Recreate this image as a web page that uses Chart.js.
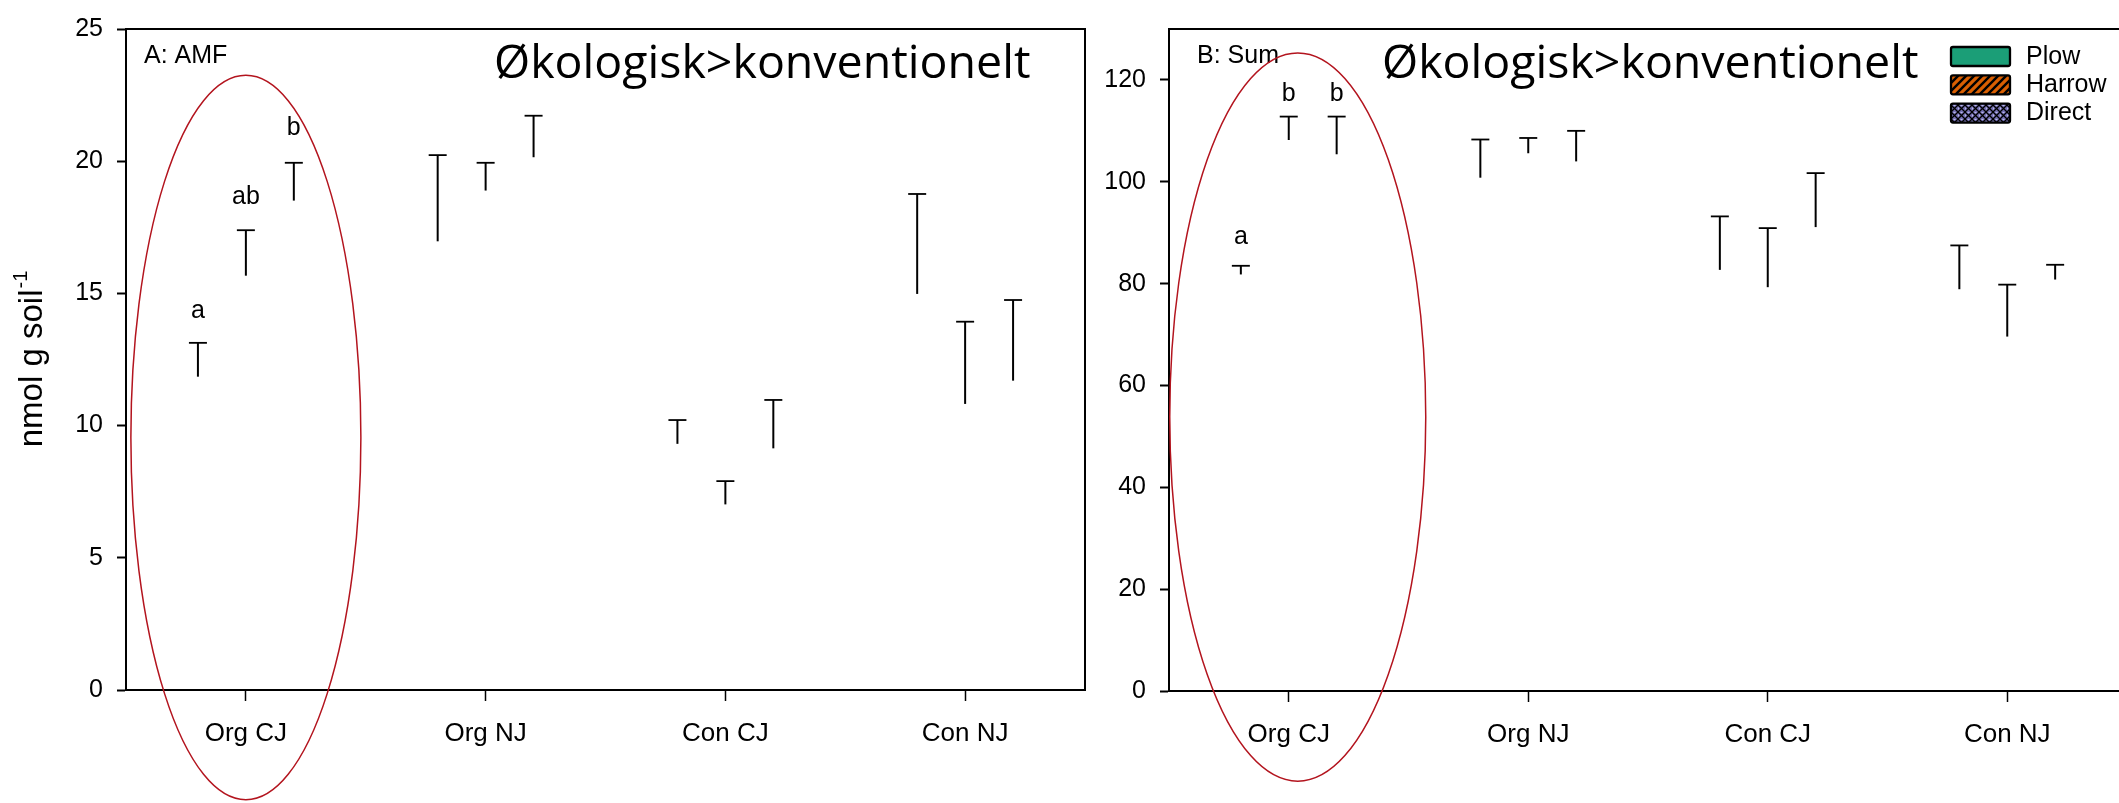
<!DOCTYPE html>
<html lang="da">
<head>
  <meta charset="UTF-8" />
  <title>AMF og sum - jordbehandling</title>
  <script src="https://cdn.jsdelivr.net/npm/chart.js"></script>
  <style>
    html, body {
      margin: 0;
      padding: 0;
      background: #ffffff;
      overflow: hidden;
      width: 2119px;
      height: 803px;
    }

    .panel {
      position: absolute;
      top: 0;
    }

    #panelA { left: 0; }
    #panelB { left: 1090px; }
  </style>
</head>
<body>
  <div class="panel" id="panelA"><canvas id="chartA" width="1090" height="803"></canvas></div>
  <div class="panel" id="panelB"><canvas id="chartB" width="1050" height="803"></canvas></div>

  <script>
    const groups = ['Org CJ', 'Org NJ', 'Con CJ', 'Con NJ'];
    const tillage = ['Plow', 'Harrow', 'Direct'];
    const tillageColors = ['#1b9e77', '#d95f02', '#7570b3'];

    // A: AMF, means (bar tops) and upper SE
    const amfPlow = [11.85, 16.97, 9.31, 14.98];
    const amfHarrow = [15.67, 18.89, 7.02, 10.82];
    const amfDirect = [18.51, 20.15, 9.14, 11.70];
    const amfPlowSe = [1.28, 3.26, 0.90, 3.78];
    const amfHarrowSe = [1.72, 1.05, 0.88, 3.11];
    const amfDirectSe = [1.43, 1.57, 1.83, 3.05];
    const amfLetters = ['a', 'ab', 'b'];   // Org CJ only
    const amfTicks = [0, 5, 10, 15, 20, 25];

    // B: Sum
    const sumPlow = [81.8, 100.8, 82.7, 78.9];
    const sumHarrow = [108.2, 105.6, 79.3, 69.6];
    const sumDirect = [105.4, 104.0, 91.1, 80.8];
    const sumPlowSe = [1.7, 7.5, 10.5, 8.6];
    const sumHarrowSe = [4.6, 3.0, 11.6, 10.2];
    const sumDirectSe = [7.4, 6.0, 10.6, 2.9];
    const sumLetters = ['a', 'b', 'b'];
    const sumTicks = [0, 20, 40, 60, 80, 100, 120];

    const headline = 'Økologisk>konventionelt';
    const sansFont = "'Liberation Sans', Arial, sans-serif";

    Chart.defaults.font.family = sansFont;
    Chart.defaults.color = '#000000';

    const makePattern = (kind, color) => {
      const size = kind === 'hatch' ? 8 : 7;
      const c = document.createElement('canvas');
      c.width = size;
      c.height = size;
      const p = c.getContext('2d');
      p.fillStyle = color;
      p.fillRect(0, 0, size, size);
      p.strokeStyle = '#000000';
      if (kind === 'hatch') {
        p.lineWidth = 2.4;
        p.beginPath();
        p.moveTo(-2, size + 2); p.lineTo(size + 2, -2);
        p.moveTo(-2, 2); p.lineTo(2, -2);
        p.moveTo(size - 2, size + 2); p.lineTo(size + 2, size - 2);
        p.stroke();
      } else {
        p.lineWidth = 1.3;
        p.beginPath();
        p.moveTo(0, 0); p.lineTo(size, size);
        p.moveTo(0, size); p.lineTo(size, 0);
        p.stroke();
        p.fillStyle = '#b9b6e6';
        p.fillRect(size / 2 - 1, 0, 2, 1);
        p.fillRect(0, size / 2 - 1, 1, 2);
      }
      return p.createPattern(c, 'repeat');
    };

    const decor = {
      id: 'decor',
      afterDatasetsDraw(chart, args, opts) {
        const ctx = chart.ctx;
        const y = chart.scales.y;
        ctx.save();
        ctx.strokeStyle = '#000000';
        ctx.fillStyle = '#000000';
        chart.data.datasets.forEach((ds, i) => {
          chart.getDatasetMeta(i).data.forEach((bar, j) => {
            const top = y.getPixelForValue(ds.data[j] + ds.se[j]);
            ctx.lineWidth = 2;
            ctx.beginPath();
            ctx.moveTo(bar.x, bar.y);
            ctx.lineTo(bar.x, top);
            ctx.stroke();
            ctx.lineWidth = 1.8;
            ctx.beginPath();
            ctx.moveTo(bar.x - 9, top);
            ctx.lineTo(bar.x + 9, top);
            ctx.stroke();
            if (j === 0 && ds.letter) {
              ctx.font = `25px ${sansFont}`;
              ctx.textAlign = 'center';
              ctx.textBaseline = 'alphabetic';
              ctx.fillText(ds.letter, bar.x, top - opts.letterGap[i]);
            }
          });
        });
        ctx.restore();
      },
      afterDraw(chart, args, opts) {
        const ctx = chart.ctx;
        const area = chart.chartArea;
        ctx.save();

        // top and right frame
        ctx.strokeStyle = '#000000';
        ctx.lineWidth = 2;
        ctx.beginPath();
        ctx.moveTo(area.left, area.top);
        ctx.lineTo(area.right, area.top);
        ctx.lineTo(area.right, area.bottom);
        ctx.stroke();

        ctx.fillStyle = '#000000';
        ctx.textAlign = 'left';
        ctx.textBaseline = 'alphabetic';
        ctx.font = `25px ${sansFont}`;
        ctx.fillText(opts.panelLabel, opts.panelLabelX, 63);

        ctx.font = "46.5px 'Open Sans', 'Noto Sans', sans-serif";
        ctx.fillText(headline, opts.headlineX, 78);

        if (opts.yTitle) {
          const cy = (area.top + area.bottom) / 2;
          ctx.translate(42, cy);
          ctx.rotate(-Math.PI / 2);
          ctx.font = `33px ${sansFont}`;
          const w1 = ctx.measureText(opts.yTitle).width;
          ctx.font = `20px ${sansFont}`;
          const w2 = ctx.measureText('-1').width;
          const x0 = -(w1 + w2) / 2;
          ctx.font = `33px ${sansFont}`;
          ctx.fillText(opts.yTitle, x0, 0);
          ctx.font = `20px ${sansFont}`;
          ctx.fillText('-1', x0 + w1 + 1, -15);
          ctx.setTransform(1, 0, 0, 1, 0, 0);
        }

        if (opts.legend) {
          const fills = [tillageColors[0], makePattern('hatch', tillageColors[1]), makePattern('cross', tillageColors[2])];
          tillage.forEach((name, k) => {
            const bx = 861;
            const by = 47 + k * 28.3;
            ctx.fillStyle = fills[k];
            ctx.beginPath();
            ctx.roundRect(bx, by, 59, 19, 2);
            ctx.fill();
            ctx.lineWidth = 2.3;
            ctx.strokeStyle = '#000000';
            ctx.stroke();
            ctx.fillStyle = '#000000';
            ctx.font = `25px ${sansFont}`;
            ctx.textBaseline = 'middle';
            ctx.fillText(name, 936, by + 10);
          });
        }

        // red ring around Org CJ
        const x = chart.scales.x;
        const yScale = chart.scales.y;
        const e = opts.ring;
        const cx = x.getPixelForValue(0) + e.dx;
        const cyRing = yScale.getPixelForValue(e.cy);
        const ry = yScale.getPixelForValue(0) - yScale.getPixelForValue(e.ry);
        ctx.strokeStyle = '#b3141e';
        ctx.lineWidth = 1.5;
        ctx.beginPath();
        ctx.ellipse(cx, cyRing, e.rx, ry, 0, 0, Math.PI * 2);
        ctx.stroke();

        ctx.restore();
      }
    };

    const buildChart = (canvasId, series, errors, letters, ticks, yMax, extra) => {
      const datasets = tillage.map((name, k) => ({
        label: name,
        data: series[k],
        se: errors[k],
        letter: letters[k],
        backgroundColor: 'rgba(0, 0, 0, 0)',
        borderWidth: 0,
        categoryPercentage: 0.6,
        barPercentage: 0.8
      }));

      return new Chart(document.getElementById(canvasId), {
        type: 'bar',
        data: { labels: groups, datasets },
        plugins: [decor],
        options: {
          responsive: false,
          animation: false,
          layout: { padding: { top: extra.padTop, right: extra.padRight, bottom: 0, left: 0 } },
          scales: {
            x: {
              offset: true,
              grid: {
                offset: false,
                drawOnChartArea: false,
                tickLength: 11,
                tickWidth: 1.5,
                tickColor: '#000000'
              },
              border: { color: '#000000', width: 2 },
              ticks: { font: { size: 26 }, padding: 17, color: '#000000' },
              afterFit: (scale) => { scale.height = extra.xHeight; }
            },
            y: {
              min: 0,
              max: yMax,
              grid: {
                drawOnChartArea: false,
                tickLength: 9,
                tickWidth: 2,
                tickColor: '#000000'
              },
              border: { color: '#000000', width: 2 },
              ticks: { font: { size: 25 }, padding: 14, color: '#000000' },
              afterBuildTicks: (scale) => { scale.ticks = ticks.map(v => ({ value: v })); },
              afterFit: (scale) => { scale.width = extra.yWidth; }
            }
          },
          plugins: {
            legend: { display: false },
            tooltip: { enabled: false },
            decor: extra.decor
          }
        }
      });
    };

    buildChart('chartA',
      [amfPlow, amfHarrow, amfDirect],
      [amfPlowSe, amfHarrowSe, amfDirectSe],
      amfLetters, amfTicks, 25,
      {
        padTop: 20, padRight: 5, xHeight: 113, yWidth: 126,
        decor: {
          panelLabel: 'A: AMF', panelLabelX: 144, headlineX: 494,
          yTitle: 'nmol g soil', legend: false, letterGap: [25, 26, 28],
          ring: { dx: 0, cy: 9.55, rx: 115, ry: 13.7 }
        }
      });

    buildChart('chartB',
      [sumPlow, sumHarrow, sumDirect],
      [sumPlowSe, sumHarrowSe, sumDirectSe],
      sumLetters, sumTicks, 130,
      {
        padTop: 21, padRight: 13, xHeight: 112, yWidth: 79,
        decor: {
          panelLabel: 'B: Sum', panelLabelX: 107, headlineX: 292,
          yTitle: null, legend: true, letterGap: [22, 16, 16],
          ring: { dx: 9, cy: 53.8, rx: 128, ry: 71.5 }
        }
      });
  </script>
</body>
</html>
